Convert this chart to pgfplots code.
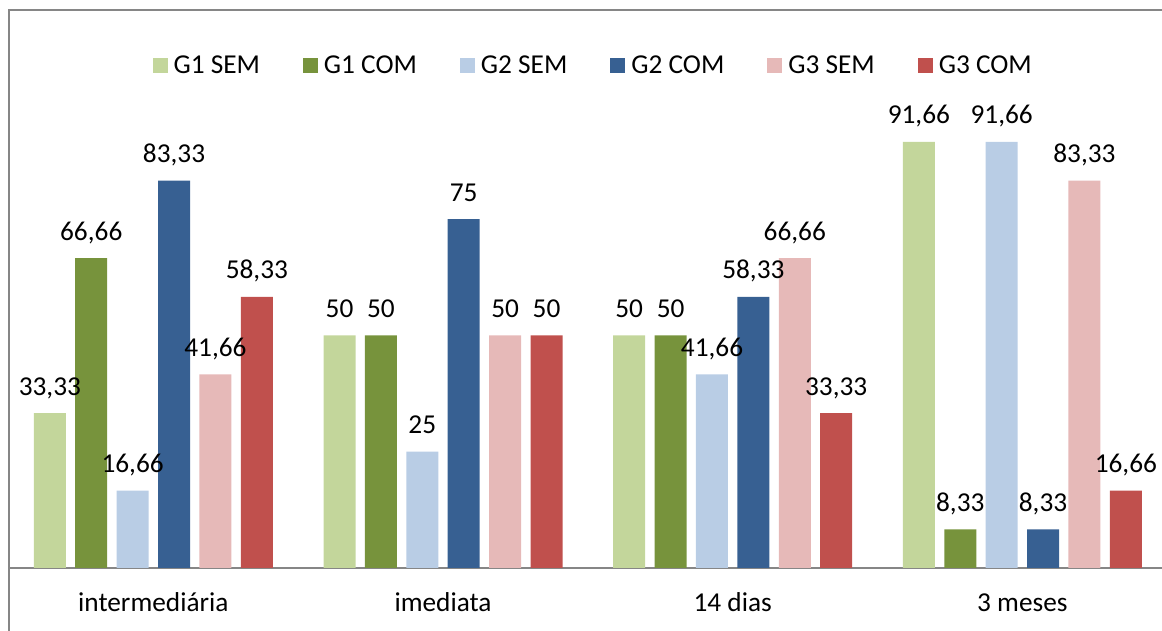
\documentclass[border=0pt]{standalone}
\usepackage{pgfplots}
\pgfplotsset{compat=1.18}
\usepackage{fontspec}
\setmainfont{Carlito}

\definecolor{gUmSem}{HTML}{C3D69B}
\definecolor{gUmCom}{HTML}{77933C}
\definecolor{gDoisSem}{HTML}{B9CDE5}
\definecolor{gDoisCom}{HTML}{376092}
\definecolor{gTresSem}{HTML}{E6B9B8}
\definecolor{gTresCom}{HTML}{C0504D}
\definecolor{frameGray}{HTML}{868686}

\newcommand{\chartfont}{\fontsize{27.3}{31}\selectfont}

\begin{document}
\begin{tikzpicture}
\path[use as bounding box] (0pt,0pt) rectangle (1162pt,631pt);
\draw[frameGray, line width=1.4pt] (9pt,-2pt) -- (9pt,621pt) -- (1165pt,621pt);
\begin{axis}[
  at={(8.5pt,63pt)}, anchor=south west,
  scale only axis,
  width=1153.5pt, height=465pt,
  xmin=-0.5, xmax=3.482,
  ymin=0, ymax=100,
  enlargelimits=false,
  clip=false,
  ybar=9.4pt, bar width=32pt,
  axis x line*=bottom,
  axis y line=none,
  axis line style={frameGray, line width=1.4pt, -},
  xtick={0,1,2,3},
  xticklabels={intermediária, imediata, 14 dias, 3 meses},
  major tick length=0pt,
  xticklabel style={anchor=base, yshift=-44pt, font=\chartfont},
  /pgf/number format/assume math mode=true,
  /pgf/number format/use comma,
  nodes near coords,
  every node near coord/.append style={anchor=base, yshift=18pt,
    font=\chartfont, text=black},
  legend columns=6,
  legend image code/.code={\fill[#1] (0pt,-7.5pt) rectangle (15pt,7.5pt);},
  legend style={draw=none, fill=none,
    at={(0.506,1.0817)}, anchor=center,
    font=\chartfont,
    nodes={inner sep=0pt},
    /tikz/every odd column/.append style={column sep=6pt},
    /tikz/every even column/.append style={column sep=43pt}},
]
\addplot[fill=gUmSem, draw=none] coordinates {(0,33.33) (1,50) (2,50) (3,91.66)};
\addplot[fill=gUmCom, draw=none] coordinates {(0,66.66) (1,50) (2,50) (3,8.33)};
\addplot[fill=gDoisSem, draw=none] coordinates {(0,16.66) (1,25) (2,41.66) (3,91.66)};
\addplot[fill=gDoisCom, draw=none] coordinates {(0,83.33) (1,75) (2,58.33) (3,8.33)};
\addplot[fill=gTresSem, draw=none] coordinates {(0,41.66) (1,50) (2,66.66) (3,83.33)};
\addplot[fill=gTresCom, draw=none] coordinates {(0,58.33) (1,50) (2,33.33) (3,16.66)};
\legend{G1 SEM, G1 COM, G2 SEM, G2 COM, G3 SEM, G3 COM}
\end{axis}
\end{tikzpicture}
\end{document}
